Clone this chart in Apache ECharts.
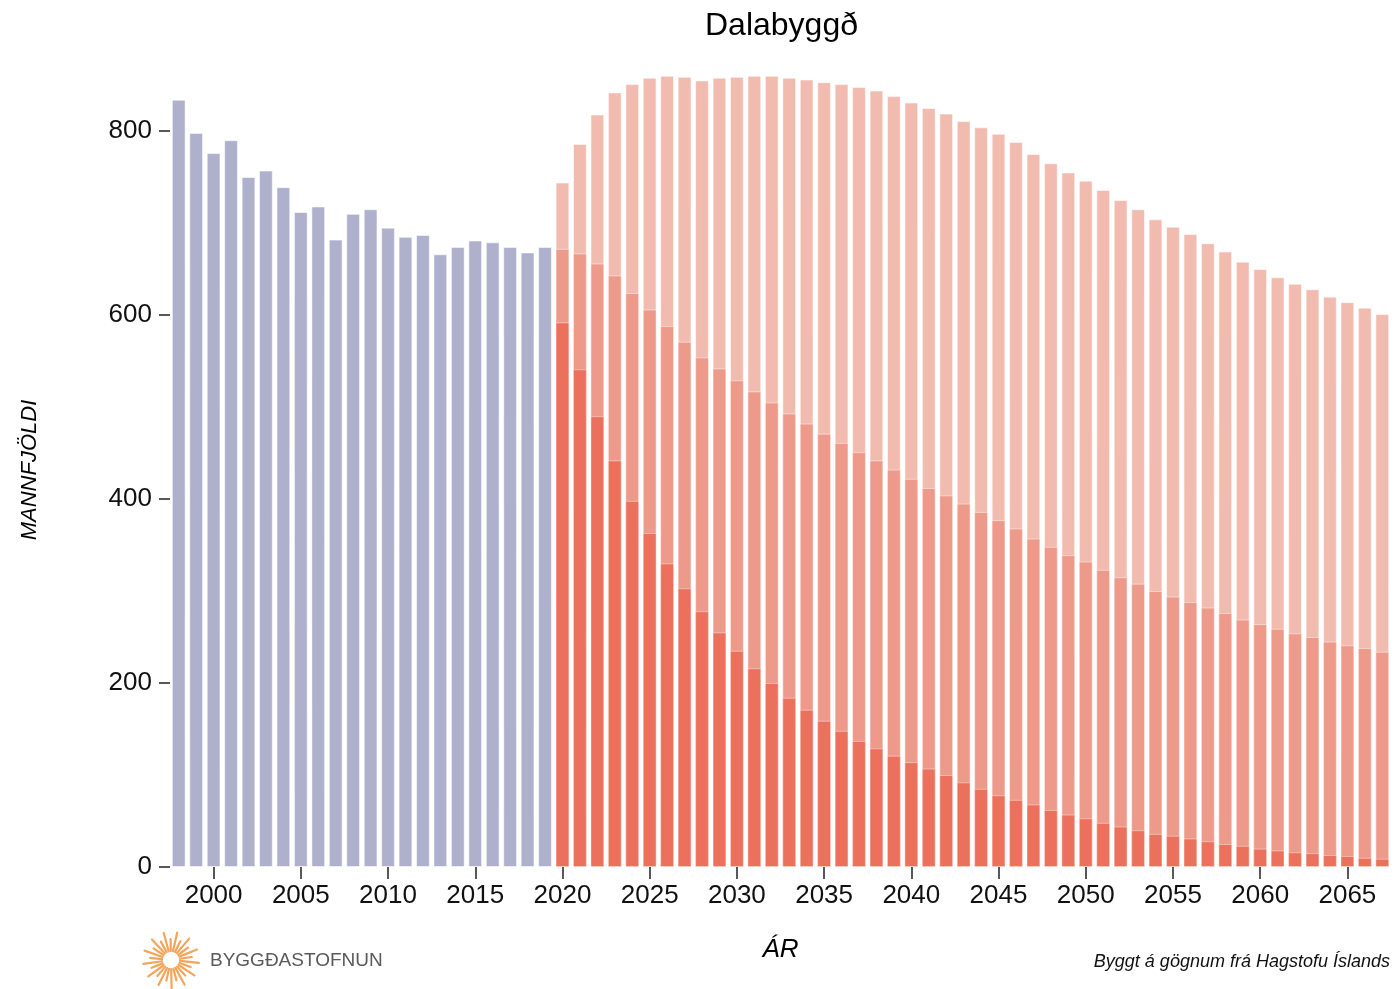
<!DOCTYPE html>
<html>
<head>
<meta charset="utf-8">
<style>
html,body{margin:0;padding:0;background:#fff;}
#chart{width:1396px;height:989px;}
</style>
<script src="https://cdn.jsdelivr.net/npm/echarts@6/dist/echarts.min.js"></script>
</head>
<body>
<div id="chart"></div>
<script>
// ---- data ----
const firstYear = 1998;
const lastYear = 2067;
const histValues = [834,798,776,790,750,757,739,712,718,682,710,715,695,685,687,666,674,681,679,674,668,674]; // 1998-2019
const projTotal = [744,786,818,842,851,858,860,859,855,858,
                   859,860,860,858,856,853,851,848,844,838,
                   831,825,819,811,804,797,788,775,765,755,
                   746,736,725,715,704,696,688,678,669,658,
                   650,641,634,628,620,614,608,601]; // 2020-2067
const projMid = [672,667,656,643,624,606,588,571,554,542,
                 529,517,505,493,482,471,461,451,442,432,
                 422,412,404,395,386,377,368,357,348,339,
                 332,323,315,308,300,294,288,282,276,269,
                 264,259,254,250,245,241,238,234];
const projLow = [592,541,490,442,398,363,330,303,278,255,
                 235,216,200,184,171,159,148,137,129,121,
                 114,107,100,92,85,78,73,68,62,57,
                 53,48,44,40,36,34,31,28,25,23,
                 20,18,16,15,13,12,10,9];
const yTicks = [0,200,400,600,800];

const years = [];
for (let y = firstYear; y <= lastYear; y++) years.push(String(y));
const histData = histValues.concat(new Array(years.length - histValues.length).fill(null));
const pad = new Array(histValues.length).fill(null);
const totalData = pad.concat(projTotal);
const midData = pad.concat(projMid);
const lowData = pad.concat(projLow);

const FONT = '"Liberation Sans", Arial, Helvetica, sans-serif';

// logo rays (decoration)
const rays = [];
const cx = 171, cy = 960;
for (let i = 0; i < 26; i++) {
  const a = i * (2 * Math.PI / 26) + 0.1;
  const r0 = 9;
  const r1 = (i % 2 === 0) ? 28 : 21;
  rays.push({
    type: 'line',
    shape: {x1: cx + r0 * Math.cos(a), y1: cy + r0 * Math.sin(a), x2: cx + r1 * Math.cos(a), y2: cy + r1 * Math.sin(a)},
    style: {stroke: '#f4a55c', lineWidth: 2.2, lineCap: 'round'}
  });
}

const barBase = {
  type: 'bar',
  barGap: '-100%',
  barCategoryGap: '21%',
  animation: false
};

const chart = echarts.init(document.getElementById('chart'), null, {renderer: 'canvas'});
chart.setOption({
  animation: false,
  backgroundColor: '#fff',
  title: {
    text: 'Dalabyggð',
    left: 700, top: 5,
    textStyle: {fontFamily: FONT, fontSize: 32, fontWeight: 'normal', color: '#000'}
  },
  grid: {left: 170, right: 5, top: 74, bottom: 122, containLabel: false},
  xAxis: {
    type: 'category',
    data: years,
    boundaryGap: true,
    name: 'ÁR',
    nameLocation: 'middle',
    nameGap: 70,
    nameTextStyle: {fontFamily: FONT, fontSize: 26, fontStyle: 'italic', color: '#000'},
    axisLine: {show: false},
    axisTick: {
      show: true, alignWithLabel: true, length: 12,
      interval: (idx, val) => Number(val) % 5 === 0,
      lineStyle: {color: '#222', width: 1.5}
    },
    axisLabel: {
      interval: (idx, val) => Number(val) % 5 === 0,
      fontFamily: FONT, fontSize: 26, color: '#111', margin: 16
    },
    splitLine: {show: false}
  },
  yAxis: {
    type: 'value',
    min: 0, max: 862,
    axisLine: {show: false},
    axisTick: {show: true, inside: false, length: 11, customValues: yTicks, lineStyle: {color: '#222', width: 1.5}},
    axisLabel: {customValues: yTicks, fontFamily: FONT, fontSize: 26, color: '#111', margin: 18},
    splitLine: {show: false}
  },
  series: [
    Object.assign({}, barBase, {name: 'Mannfjöldi', data: histData,
      itemStyle: {color: '#afb0cc', borderColor: 'rgba(255,255,255,0.55)', borderWidth: 1}}),
    Object.assign({}, barBase, {name: 'Spá', data: totalData,
      itemStyle: {color: '#f2bbb0', borderColor: 'rgba(255,255,255,0.55)', borderWidth: 1}}),
    Object.assign({}, barBase, {name: 'Spá 2', data: midData,
      itemStyle: {color: '#ee9a8a', borderColor: 'rgba(255,255,255,0.45)', borderWidth: 1}}),
    Object.assign({}, barBase, {name: 'Spá 3', data: lowData,
      itemStyle: {color: '#ec715d', borderColor: 'rgba(255,255,255,0.4)', borderWidth: 1}})
  ],
  graphic: [
    {
      type: 'text', x: 30, y: 470, rotation: Math.PI / 2,
      style: {text: 'MANNFJÖLDI', font: 'italic 22px ' + FONT, fill: '#000', align: 'center', verticalAlign: 'middle'}
    },
    {
      type: 'text', x: 1390, y: 962,
      style: {text: 'Byggt á gögnum frá Hagstofu Íslands', font: 'italic 18px ' + FONT, fill: '#111', align: 'right', verticalAlign: 'middle'}
    },
    {
      type: 'text', x: 210, y: 961,
      style: {text: 'BYGGÐASTOFNUN', font: '19px ' + FONT, fill: '#5a5a5a', align: 'left', verticalAlign: 'middle'}
    },
    {type: 'group', children: rays}
  ]
});
</script>
</body>
</html>
